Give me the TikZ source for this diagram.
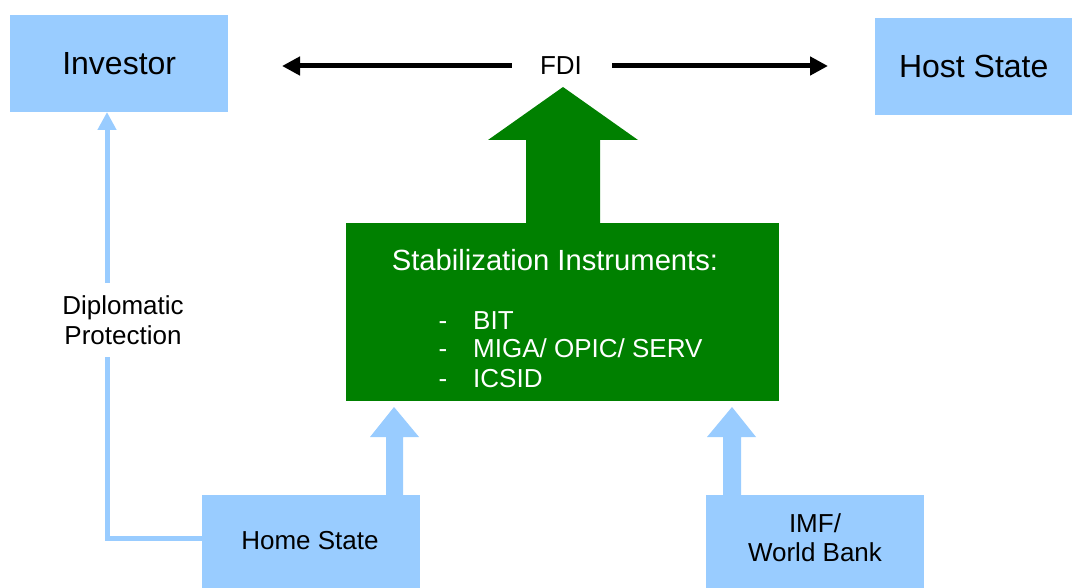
\documentclass[tikz,border=0pt]{standalone}
\usepackage{fontspec}
\setmainfont{Liberation Sans}
\usetikzlibrary{arrows.meta}
\definecolor{lblue}{HTML}{99CCFF}
\definecolor{dgreen}{HTML}{008000}
\tikzset{
  bluebox/.style={fill=lblue, draw=none, anchor=north west, inner sep=0pt},
  bigtxt/.style={font=\fontsize{32}{38}\selectfont, inner sep=0pt},
  txt/.style={font=\fontsize{26}{30}\selectfont, inner sep=0pt},
  fdiarrow/.style={draw=black, line width=5pt, -{Triangle[length=18pt,width=18pt]}},
  diparrow/.style={draw=lblue, line width=5pt, -{Triangle[length=18pt,width=18pt]}},
}
\begin{document}
\begin{tikzpicture}[x=1pt,y=-1pt]
\useasboundingbox (0,0) rectangle (1078,588);
% boxes
\node[bluebox, minimum width=218pt, minimum height=97pt] (inv) at (10,15) {};
\node[bigtxt] at (inv.center) {Investor};
\node[bluebox, minimum width=197pt, minimum height=97pt] (host) at (875,18) {};
\node[bigtxt] at (host.center) {Host State};
\node[bluebox, minimum width=218pt, minimum height=93pt] (home) at (202,495) {};
\node[txt] at (310,541) {Home State};
\node[bluebox, minimum width=218pt, minimum height=93pt] (imf) at (706,495) {};
\node[txt, align=center, font=\fontsize{26}{29}\selectfont] at (815,538) {IMF/\\World Bank};
\node[fill=dgreen, draw=none, anchor=north west, inner sep=0pt, minimum width=433pt, minimum height=178pt] (stab) at (346,223) {};
% green block arrow
\fill[dgreen] (526,224) -- (526,140) -- (488,140) -- (563,87) -- (638,140) -- (600,140) -- (600,224) -- cycle;
% blue block arrows
\fill[lblue] (386,496) -- (386,437) -- (370,437) -- (394,407) -- (419,437) -- (403,437) -- (403,496) -- cycle;
\fill[lblue] (723,496) -- (723,437) -- (707,437) -- (732,407) -- (756,437) -- (741,437) -- (741,496) -- cycle;
% texts in green box
\node[txt, text=white, font=\fontsize{29.2}{32}\selectfont] (title) at (555,260) {Stabilization Instruments:};
\foreach \y/\t in {329/BIT, 357/{MIGA/ OPIC/ SERV}, 387/ICSID}{
  \node[txt, text=white, anchor=base] at (443,\y) {-};
  \node[txt, text=white, anchor=base west] at (473,\y) {\t};
}
% FDI
\node[txt] (fdi) at (561,66) {FDI};
\coordinate (ltip) at (282,65);
\coordinate (rtip) at (828,65);
\draw[fdiarrow] ([xshift=-28pt]fdi.west) -- (fdi.west -| ltip);
\draw[fdiarrow] ([xshift=30pt]fdi.east) -- (fdi.east -| rtip);
% diplomatic protection
\coordinate (dipTop) at (107,112);
\draw[diparrow] ([yshift=3.5pt]home.west) -| (dipTop);
\node[txt, fill=white, align=center, inner xsep=2pt, inner ysep=12pt, font=\fontsize{26}{30}\selectfont] (dip) at (123,320) {Diplomatic\\Protection};
\end{tikzpicture}
\end{document}
